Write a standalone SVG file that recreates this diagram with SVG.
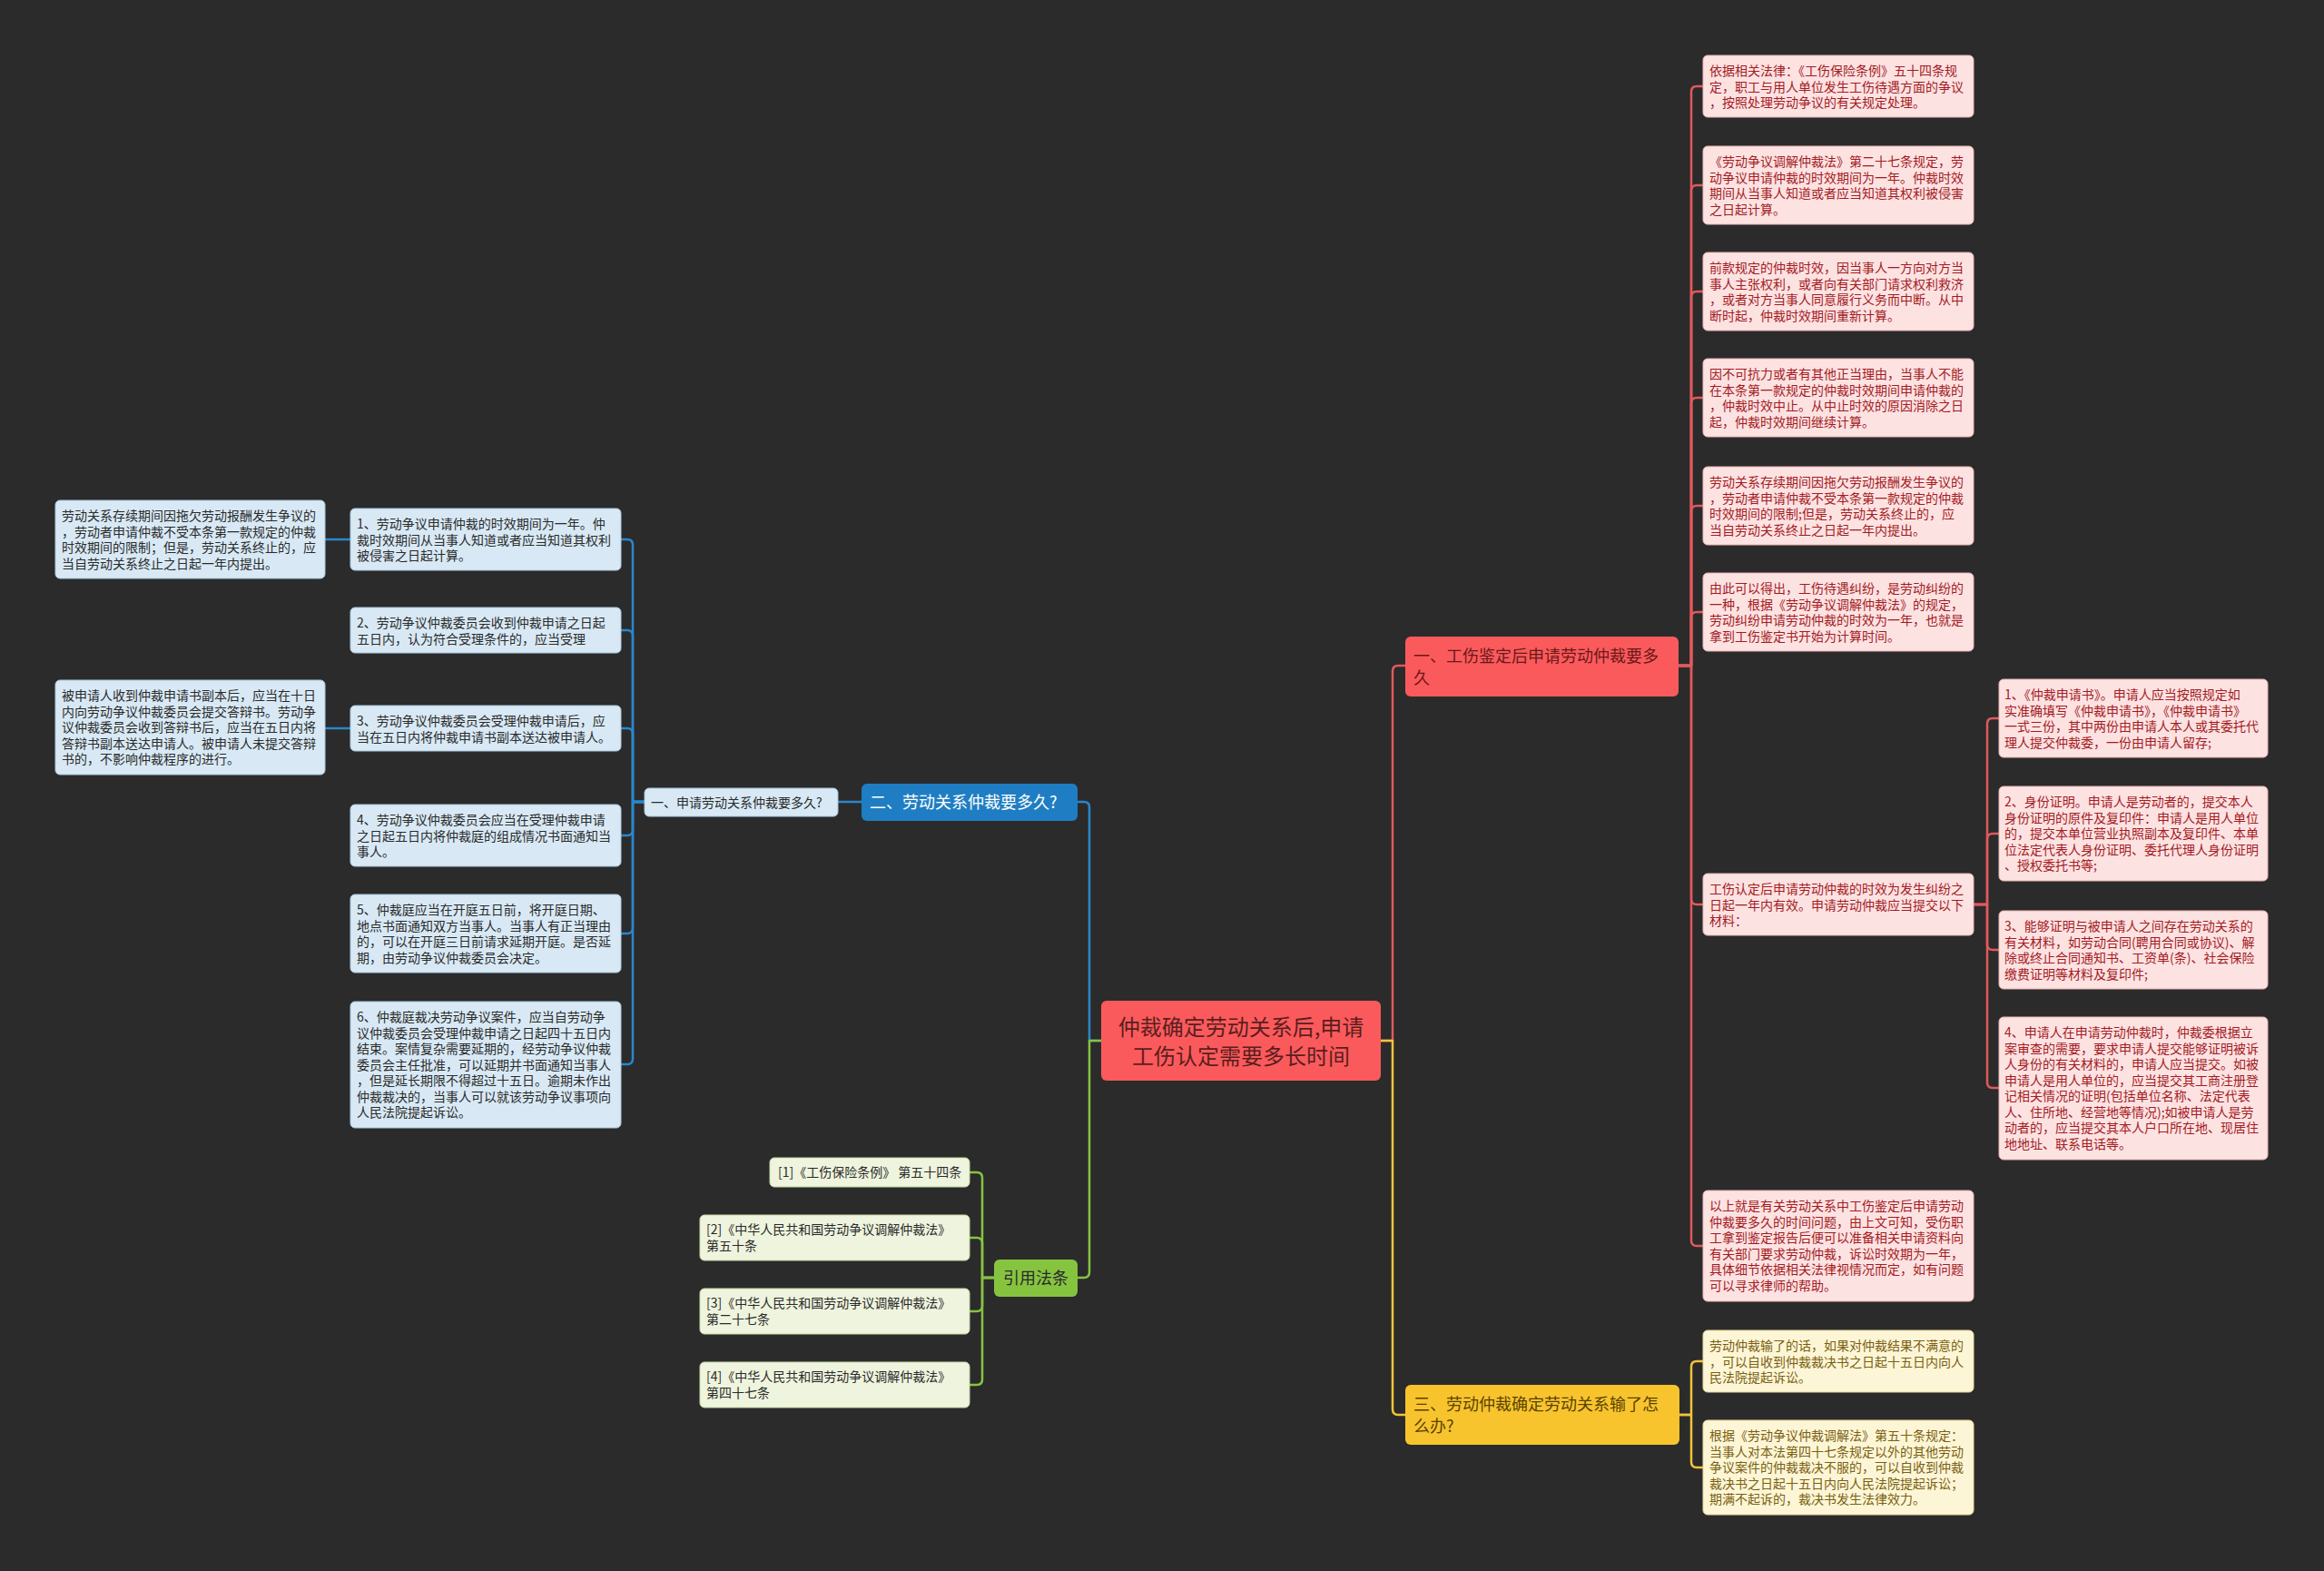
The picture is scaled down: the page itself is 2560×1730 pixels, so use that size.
<svg xmlns="http://www.w3.org/2000/svg" width="2560" height="1730" viewBox="0 0 2560 1730">
<style>
text{font-family:"Noto Sans CJK SC","Noto Sans",sans-serif;}
.lr{fill:#fde2e2;stroke:#e9b4b4;stroke-width:1;}
.tr{font-size:14px;fill:#a31b1f;}
.ly{fill:#fdf6d6;stroke:#e6d59a;stroke-width:1;}
.ty{font-size:14px;fill:#7a5f12;}
.lb{fill:#d8e9f5;stroke:#a9c7dd;stroke-width:1;}
.tb{font-size:14px;fill:#2a2a2a;}
.lg{fill:#eef4dd;stroke:#c8d9a8;stroke-width:1;}
.tg{font-size:14px;fill:#2a2a2a;}
.c{fill:none;stroke-width:2.5;stroke-linejoin:round;}
.cr{stroke:#e05a5c;} .cb{stroke:#2a86cc;} .cg{stroke:#86c440;} .cy{stroke:#f2c438;}
</style>
<rect x="0" y="0" width="2560" height="1730" fill="#2b2b2b"/>

<g id="connectors">
  <!-- center to main branches -->
  <path class="c cr" d="M1521,1146 H1534 V739 Q1534,733 1540,733 H1548"/>
  <path class="c cy" d="M1521,1146 H1534 V1552 Q1534,1558 1540,1558 H1548"/>
  <path class="c cb" d="M1213,1146 H1200 V889 Q1200,883 1194,883 H1187"/>
  <path class="c cg" d="M1213,1146 H1200 V1401 Q1200,1407 1194,1407 H1187"/>
  <!-- branch 1 to pink leaves -->
  <path class="c cr" d="M1849,733 H1863 V101 Q1863,95 1869,95 H1876"/>
  <path class="c cr" d="M1849,733 H1863 V210 Q1863,204 1869,204 H1876"/>
  <path class="c cr" d="M1849,733 H1863 V327 Q1863,321 1869,321 H1876"/>
  <path class="c cr" d="M1849,733 H1863 V444 Q1863,438 1869,438 H1876"/>
  <path class="c cr" d="M1849,733 H1863 V563 Q1863,557 1869,557 H1876"/>
  <path class="c cr" d="M1849,733 H1863 V680 Q1863,674 1869,674 H1876"/>
  <path class="c cr" d="M1849,733 H1863 V990 Q1863,996 1869,996 H1876"/>
  <path class="c cr" d="M1849,733 H1863 V1366 Q1863,1372 1869,1372 H1876"/>
  <!-- G to right leaves -->
  <path class="c cr" d="M2174,996 H2189 V797 Q2189,791 2195,791 H2202"/>
  <path class="c cr" d="M2174,996 H2189 V924 Q2189,918 2195,918 H2202"/>
  <path class="c cr" d="M2174,996 H2189 V1040 Q2189,1046 2195,1046 H2202"/>
  <path class="c cr" d="M2174,996 H2189 V1192 Q2189,1198 2195,1198 H2202"/>
  <!-- branch 3 to yellow leaves -->
  <path class="c cy" d="M1850,1558 H1863 V1505 Q1863,1499 1869,1499 H1876"/>
  <path class="c cy" d="M1850,1558 H1863 V1610 Q1863,1616 1869,1616 H1876"/>
  <!-- branch 2 -->
  <path class="c cb" d="M949,883 H923"/>
  <path class="c cb" d="M710,883 H697 V600 Q697,594 691,594 H684"/>
  <path class="c cb" d="M710,883 H697 V700 Q697,694 691,694 H684"/>
  <path class="c cb" d="M710,883 H697 V808 Q697,802 691,802 H684"/>
  <path class="c cb" d="M710,883 H697 V914 Q697,920 691,920 H684"/>
  <path class="c cb" d="M710,883 H697 V1022 Q697,1028 691,1028 H684"/>
  <path class="c cb" d="M710,883 H697 V1166 Q697,1172 691,1172 H684"/>
  <path class="c cb" d="M386,594 H358"/>
  <path class="c cb" d="M386,802 H358"/>
  <!-- citations -->
  <path class="c cg" d="M1095,1407 H1082 V1297 Q1082,1291 1076,1291 H1068"/>
  <path class="c cg" d="M1095,1407 H1082 V1369 Q1082,1363 1076,1363 H1068"/>
  <path class="c cg" d="M1095,1407 H1082 V1438 Q1082,1444 1076,1444 H1068"/>
  <path class="c cg" d="M1095,1407 H1082 V1519 Q1082,1525 1076,1525 H1068"/>
</g>

<g id="center">
  <rect x="1213" y="1102" width="308" height="88" rx="6" fill="#fb5a5c"/>
  <text x="1367" y="1140" font-size="24" fill="#5a1e1e" text-anchor="middle">仲裁确定劳动关系后,申请</text>
  <text x="1367" y="1172" font-size="24" fill="#5a1e1e" text-anchor="middle">工伤认定需要多长时间</text>
</g>

<g id="branch1">
  <rect x="1548" y="701" width="301" height="66" rx="6" fill="#fb5a5c"/>
  <text x="1557" y="729" font-size="18" fill="#6a1818">一、工伤鉴定后申请劳动仲裁要多</text>
  <text x="1557" y="753" font-size="18" fill="#6a1818">久</text>
</g>
<g id="branch3">
  <rect x="1548" y="1525" width="302" height="66" rx="6" fill="#f8c42e"/>
  <text x="1557" y="1553" font-size="18" fill="#5a4300">三、劳动仲裁确定劳动关系输了怎</text>
  <text x="1557" y="1577" font-size="18" fill="#5a4300">么办?</text>
</g>
<g id="branch2">
  <rect x="949" y="863" width="238" height="41" rx="6" fill="#1f7ec3"/>
  <text x="958" y="890" font-size="18" fill="#ffffff">二、劳动关系仲裁要多久?</text>
</g>
<g id="citebranch">
  <rect x="1095" y="1387" width="92" height="41" rx="6" fill="#86c440"/>
  <text x="1141" y="1414" font-size="18" fill="#2a2a2a" text-anchor="middle">引用法条</text>
</g>

<g id="p1"><rect class="lr" x="1876" y="61" width="298" height="68" rx="5"/>
<text class="tr" x="1883" y="83">依据相关法律：《工伤保险条例》五十四条规</text>
<text class="tr" x="1883" y="100.5">定，职工与用人单位发生工伤待遇方面的争议</text>
<text class="tr" x="1883" y="118">，按照处理劳动争议的有关规定处理。</text></g>

<g id="p2"><rect class="lr" x="1876" y="161" width="298" height="86" rx="5"/>
<text class="tr" x="1883" y="183">《劳动争议调解仲裁法》第二十七条规定，劳</text>
<text class="tr" x="1883" y="200.5">动争议申请仲裁的时效期间为一年。仲裁时效</text>
<text class="tr" x="1883" y="218">期间从当事人知道或者应当知道其权利被侵害</text>
<text class="tr" x="1883" y="235.5">之日起计算。</text></g>

<g id="p3"><rect class="lr" x="1876" y="278" width="298" height="86" rx="5"/>
<text class="tr" x="1883" y="300">前款规定的仲裁时效，因当事人一方向对方当</text>
<text class="tr" x="1883" y="317.5">事人主张权利，或者向有关部门请求权利救济</text>
<text class="tr" x="1883" y="335">，或者对方当事人同意履行义务而中断。从中</text>
<text class="tr" x="1883" y="352.5">断时起，仲裁时效期间重新计算。</text></g>

<g id="p4"><rect class="lr" x="1876" y="395" width="298" height="86" rx="5"/>
<text class="tr" x="1883" y="417">因不可抗力或者有其他正当理由，当事人不能</text>
<text class="tr" x="1883" y="434.5">在本条第一款规定的仲裁时效期间申请仲裁的</text>
<text class="tr" x="1883" y="452">，仲裁时效中止。从中止时效的原因消除之日</text>
<text class="tr" x="1883" y="469.5">起，仲裁时效期间继续计算。</text></g>

<g id="p5"><rect class="lr" x="1876" y="514" width="298" height="86" rx="5"/>
<text class="tr" x="1883" y="536">劳动关系存续期间因拖欠劳动报酬发生争议的</text>
<text class="tr" x="1883" y="553.5">，劳动者申请仲裁不受本条第一款规定的仲裁</text>
<text class="tr" x="1883" y="571">时效期间的限制;但是，劳动关系终止的，应</text>
<text class="tr" x="1883" y="588.5">当自劳动关系终止之日起一年内提出。</text></g>

<g id="p6"><rect class="lr" x="1876" y="631" width="298" height="86" rx="5"/>
<text class="tr" x="1883" y="653">由此可以得出，工伤待遇纠纷，是劳动纠纷的</text>
<text class="tr" x="1883" y="670.5">一种，根据《劳动争议调解仲裁法》的规定，</text>
<text class="tr" x="1883" y="688">劳动纠纷申请劳动仲裁的时效为一年，也就是</text>
<text class="tr" x="1883" y="705.5">拿到工伤鉴定书开始为计算时间。</text></g>

<g id="p7"><rect class="lr" x="1876" y="962" width="298" height="68" rx="5"/>
<text class="tr" x="1883" y="984">工伤认定后申请劳动仲裁的时效为发生纠纷之</text>
<text class="tr" x="1883" y="1001.5">日起一年内有效。申请劳动仲裁应当提交以下</text>
<text class="tr" x="1883" y="1019">材料：</text></g>

<g id="p8"><rect class="lr" x="1876" y="1311" width="298" height="122" rx="5"/>
<text class="tr" x="1883" y="1333">以上就是有关劳动关系中工伤鉴定后申请劳动</text>
<text class="tr" x="1883" y="1350.5">仲裁要多久的时间问题，由上文可知，受伤职</text>
<text class="tr" x="1883" y="1368">工拿到鉴定报告后便可以准备相关申请资料向</text>
<text class="tr" x="1883" y="1385.5">有关部门要求劳动仲裁，诉讼时效期为一年，</text>
<text class="tr" x="1883" y="1403">具体细节依据相关法律视情况而定，如有问题</text>
<text class="tr" x="1883" y="1420.5">可以寻求律师的帮助。</text></g>

<g id="r1"><rect class="lr" x="2202" y="748" width="296" height="86" rx="5"/>
<text class="tr" x="2208" y="770">1、《仲裁申请书》。申请人应当按照规定如</text>
<text class="tr" x="2208" y="787.5">实准确填写《仲裁申请书》，《仲裁申请书》</text>
<text class="tr" x="2208" y="805">一式三份，其中两份由申请人本人或其委托代</text>
<text class="tr" x="2208" y="822.5">理人提交仲裁委，一份由申请人留存;</text></g>

<g id="r2"><rect class="lr" x="2202" y="866" width="296" height="104" rx="5"/>
<text class="tr" x="2208" y="888">2、身份证明。申请人是劳动者的，提交本人</text>
<text class="tr" x="2208" y="905.5">身份证明的原件及复印件：申请人是用人单位</text>
<text class="tr" x="2208" y="923">的，提交本单位营业执照副本及复印件、本单</text>
<text class="tr" x="2208" y="940.5">位法定代表人身份证明、委托代理人身份证明</text>
<text class="tr" x="2208" y="958">、授权委托书等;</text></g>

<g id="r3"><rect class="lr" x="2202" y="1003" width="296" height="86" rx="5"/>
<text class="tr" x="2208" y="1025">3、能够证明与被申请人之间存在劳动关系的</text>
<text class="tr" x="2208" y="1042.5">有关材料，如劳动合同(聘用合同或协议)、解</text>
<text class="tr" x="2208" y="1060">除或终止合同通知书、工资单(条)、社会保险</text>
<text class="tr" x="2208" y="1077.5">缴费证明等材料及复印件;</text></g>

<g id="r4"><rect class="lr" x="2202" y="1120" width="296" height="157" rx="5"/>
<text class="tr" x="2208" y="1142">4、申请人在申请劳动仲裁时，仲裁委根据立</text>
<text class="tr" x="2208" y="1159.5">案审查的需要，要求申请人提交能够证明被诉</text>
<text class="tr" x="2208" y="1177">人身份的有关材料的，申请人应当提交。如被</text>
<text class="tr" x="2208" y="1194.5">申请人是用人单位的，应当提交其工商注册登</text>
<text class="tr" x="2208" y="1212">记相关情况的证明(包括单位名称、法定代表</text>
<text class="tr" x="2208" y="1229.5">人、住所地、经营地等情况);如被申请人是劳</text>
<text class="tr" x="2208" y="1247">动者的，应当提交其本人户口所在地、现居住</text>
<text class="tr" x="2208" y="1264.5">地地址、联系电话等。</text></g>

<g id="y1"><rect class="ly" x="1876" y="1465" width="298" height="68" rx="5"/>
<text class="ty" x="1883" y="1487">劳动仲裁输了的话，如果对仲裁结果不满意的</text>
<text class="ty" x="1883" y="1504.5">，可以自收到仲裁裁决书之日起十五日内向人</text>
<text class="ty" x="1883" y="1522">民法院提起诉讼。</text></g>

<g id="y2"><rect class="ly" x="1876" y="1564" width="298" height="104" rx="5"/>
<text class="ty" x="1883" y="1586">根据《劳动争议仲裁调解法》第五十条规定：</text>
<text class="ty" x="1883" y="1603.5">当事人对本法第四十七条规定以外的其他劳动</text>
<text class="ty" x="1883" y="1621">争议案件的仲裁裁决不服的，可以自收到仲裁</text>
<text class="ty" x="1883" y="1638.5">裁决书之日起十五日内向人民法院提起诉讼；</text>
<text class="ty" x="1883" y="1656">期满不起诉的，裁决书发生法律效力。</text></g>

<g id="b0"><rect class="lb" x="710" y="868" width="213" height="31" rx="5"/>
<text class="tb" x="717" y="888.5">一、申请劳动关系仲裁要多久?</text></g>

<g id="b1"><rect class="lb" x="386" y="560" width="298" height="68" rx="5"/>
<text class="tb" x="393" y="582">1、劳动争议申请仲裁的时效期间为一年。仲</text>
<text class="tb" x="393" y="599.5">裁时效期间从当事人知道或者应当知道其权利</text>
<text class="tb" x="393" y="617">被侵害之日起计算。</text></g>

<g id="b2"><rect class="lb" x="386" y="669" width="298" height="50" rx="5"/>
<text class="tb" x="393" y="691">2、劳动争议仲裁委员会收到仲裁申请之日起</text>
<text class="tb" x="393" y="708.5">五日内，认为符合受理条件的，应当受理</text></g>

<g id="b3"><rect class="lb" x="386" y="777" width="298" height="50" rx="5"/>
<text class="tb" x="393" y="799">3、劳动争议仲裁委员会受理仲裁申请后，应</text>
<text class="tb" x="393" y="816.5">当在五日内将仲裁申请书副本送达被申请人。</text></g>

<g id="b4"><rect class="lb" x="386" y="886" width="298" height="68" rx="5"/>
<text class="tb" x="393" y="908">4、劳动争议仲裁委员会应当在受理仲裁申请</text>
<text class="tb" x="393" y="925.5">之日起五日内将仲裁庭的组成情况书面通知当</text>
<text class="tb" x="393" y="943">事人。</text></g>

<g id="b5"><rect class="lb" x="386" y="985" width="298" height="86" rx="5"/>
<text class="tb" x="393" y="1007">5、仲裁庭应当在开庭五日前，将开庭日期、</text>
<text class="tb" x="393" y="1024.5">地点书面通知双方当事人。当事人有正当理由</text>
<text class="tb" x="393" y="1042">的，可以在开庭三日前请求延期开庭。是否延</text>
<text class="tb" x="393" y="1059.5">期，由劳动争议仲裁委员会决定。</text></g>

<g id="b6"><rect class="lb" x="386" y="1103" width="298" height="139" rx="5"/>
<text class="tb" x="393" y="1125">6、仲裁庭裁决劳动争议案件，应当自劳动争</text>
<text class="tb" x="393" y="1142.5">议仲裁委员会受理仲裁申请之日起四十五日内</text>
<text class="tb" x="393" y="1160">结束。案情复杂需要延期的，经劳动争议仲裁</text>
<text class="tb" x="393" y="1177.5">委员会主任批准，可以延期并书面通知当事人</text>
<text class="tb" x="393" y="1195">，但是延长期限不得超过十五日。逾期未作出</text>
<text class="tb" x="393" y="1212.5">仲裁裁决的，当事人可以就该劳动争议事项向</text>
<text class="tb" x="393" y="1230">人民法院提起诉讼。</text></g>

<g id="bb1"><rect class="lb" x="61" y="551" width="297" height="86" rx="5"/>
<text class="tb" x="68" y="573">劳动关系存续期间因拖欠劳动报酬发生争议的</text>
<text class="tb" x="68" y="590.5">，劳动者申请仲裁不受本条第一款规定的仲裁</text>
<text class="tb" x="68" y="608">时效期间的限制；但是，劳动关系终止的，应</text>
<text class="tb" x="68" y="625.5">当自劳动关系终止之日起一年内提出。</text></g>

<g id="bb3"><rect class="lb" x="61" y="749" width="297" height="104" rx="5"/>
<text class="tb" x="68" y="771">被申请人收到仲裁申请书副本后，应当在十日</text>
<text class="tb" x="68" y="788.5">内向劳动争议仲裁委员会提交答辩书。劳动争</text>
<text class="tb" x="68" y="806">议仲裁委员会收到答辩书后，应当在五日内将</text>
<text class="tb" x="68" y="823.5">答辩书副本送达申请人。被申请人未提交答辩</text>
<text class="tb" x="68" y="841">书的，不影响仲裁程序的进行。</text></g>

<g id="g1"><rect class="lg" x="848" y="1275" width="220" height="32" rx="5"/>
<text class="tg" x="857" y="1296">[1]《工伤保险条例》 第五十四条</text></g>

<g id="g2"><rect class="lg" x="771" y="1338" width="297" height="50" rx="5"/>
<text class="tg" x="778" y="1359">[2]《中华人民共和国劳动争议调解仲裁法》</text>
<text class="tg" x="778" y="1377">第五十条</text></g>

<g id="g3"><rect class="lg" x="771" y="1419" width="297" height="50" rx="5"/>
<text class="tg" x="778" y="1440">[3]《中华人民共和国劳动争议调解仲裁法》</text>
<text class="tg" x="778" y="1458">第二十七条</text></g>

<g id="g4"><rect class="lg" x="771" y="1500" width="297" height="50" rx="5"/>
<text class="tg" x="778" y="1521">[4]《中华人民共和国劳动争议调解仲裁法》</text>
<text class="tg" x="778" y="1539">第四十七条</text></g>
</svg>
